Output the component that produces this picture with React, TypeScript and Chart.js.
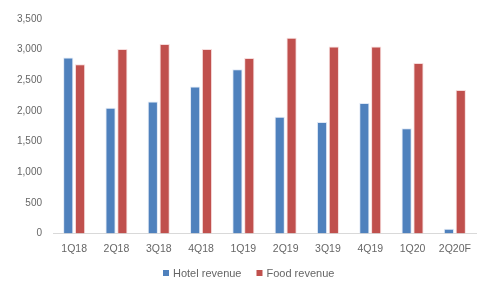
import React, { useEffect, useRef } from "react";
import { Chart, registerables } from "chart.js";

Chart.register(...registerables);

const categories = ["1Q18", "2Q18", "3Q18", "4Q18", "1Q19", "2Q19", "3Q19", "4Q19", "1Q20", "2Q20F"];
const hotelRevenue = [2870, 2050, 2155, 2400, 2680, 1905, 1820, 2130, 1715, 77];
const foodRevenue = [2760, 3010, 3090, 3010, 2865, 3195, 3050, 3050, 2780, 2340];
const yTicks = [0, 500, 1000, 1500, 2000, 2500, 3000, 3500];

const TEXT_COLOR = "#666666";
const FONT = "Liberation Sans";

const bottomLegend = {
  id: "bottomLegend",
  afterDraw(chart: any) {
    const ctx = chart.ctx as CanvasRenderingContext2D;
    const ds = chart.data.datasets;
    ctx.save();
    ctx.font = `11px "${FONT}"`;
    ctx.textBaseline = "middle";
    const box = 6;
    const gapBoxText = 4;
    const gapItems = 15;
    const widths = ds.map((d: any) => box + gapBoxText + ctx.measureText(d.label).width);
    const total = widths.reduce((a: number, b: number) => a + b, 0) + gapItems * (ds.length - 1);
    let x = Math.round(chart.width / 2 - total / 2);
    const cy = 273;
    ds.forEach((d: any, i: number) => {
      ctx.fillStyle = d.backgroundColor;
      ctx.fillRect(x, cy - box / 2, box, box);
      ctx.fillStyle = TEXT_COLOR;
      ctx.textAlign = "left";
      ctx.fillText(d.label, x + box + gapBoxText, cy + 0.5);
      x += widths[i] + gapItems;
    });
    ctx.restore();
  },
};

export default function App() {
  const ref = useRef<HTMLCanvasElement | null>(null);
  useEffect(() => {
    document.body.style.margin = "0";
    const ctx = ref.current!;
    const chart = new Chart(ctx, {
      type: "bar",
      data: {
        labels: categories,
        datasets: [
          {
            label: "Hotel revenue",
            data: hotelRevenue,
            backgroundColor: "#4F81BD",
            borderColor: "rgba(220,230,245,0.9)",
            borderWidth: 1,
          },
          {
            label: "Food revenue",
            data: foodRevenue,
            backgroundColor: "#C0504D",
            borderColor: "rgba(245,215,215,0.9)",
            borderWidth: 1,
          },
        ],
      },
      plugins: [bottomLegend],
      options: {
        animation: false,
        responsive: false,
        devicePixelRatio: 1,
        layout: { padding: { left: 0, right: 21, top: 19, bottom: 20 } },
        datasets: { bar: { categoryPercentage: 0.56, barPercentage: 0.86 } } as any,
        plugins: {
          legend: { display: false },
          tooltip: { enabled: false },
        },
        scales: {
          x: {
            grid: { display: false, drawTicks: false },
            border: { display: true, color: "#D9D9D9", width: 1 },
            ticks: {
              color: TEXT_COLOR,
              padding: 9,
              font: { family: FONT, size: 10.5 },
              maxRotation: 0,
              autoSkip: false,
            },
          },
          y: {
            min: 0,
            max: 3500,
            afterBuildTicks: (scale: any) => {
              scale.ticks = yTicks.map((v) => ({ value: v }));
            },
            afterFit: (scale: any) => {
              scale.width = 53;
            },
            grid: { display: false, drawTicks: false },
            border: { display: false },
            ticks: {
              color: TEXT_COLOR,
              padding: 11,
              font: { family: FONT, size: 10 },
              callback: (v: any) => Number(v).toLocaleString("en-US"),
            },
          },
        },
      },
    });
    return () => chart.destroy();
  }, []);
  return (
    <div style={{ position: "fixed", left: 0, top: 0, width: 497, height: 284, background: "#fff" }}>
      <canvas ref={ref} width={497} height={284} style={{ width: 497, height: 284 }} />
    </div>
  );
}
